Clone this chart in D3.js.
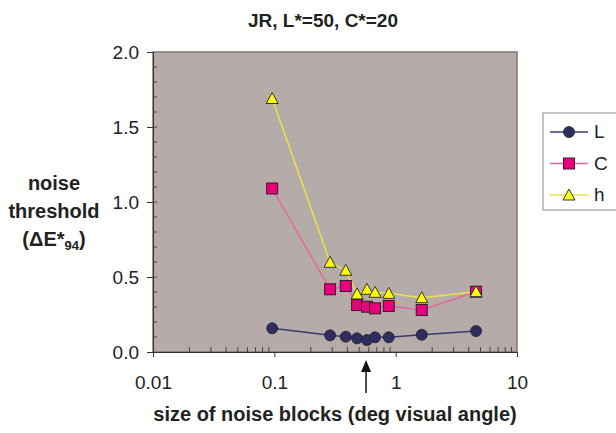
<!DOCTYPE html>
<html>
<head>
<meta charset="utf-8">
<script src="https://cdn.jsdelivr.net/npm/d3@7"></script>
<style>
body { margin: 0; background: #fff; }
text { font-family: "Liberation Sans", Arial, sans-serif; fill: #222; }
</style>
</head>
<body>
<div id="chart"></div>
<script>
// block sizes (deg visual angle)
var sizes = [0.096, 0.288, 0.388, 0.481, 0.58, 0.676, 0.877, 1.64, 4.6];
var valL = [0.158, 0.111, 0.102, 0.091, 0.08, 0.098, 0.098, 0.115, 0.14];
var valC = [1.09, 0.418, 0.44, 0.313, 0.302, 0.291, 0.307, 0.28, 0.402];
var valH = [1.69, 0.598, 0.545, 0.387, 0.418, 0.398, 0.391, 0.362, 0.402];
var xTicks = [0.01, 0.1, 1, 10];
var yTicks = [0.0, 0.5, 1.0, 1.5, 2.0];
var arrowAt = [0.57];

var series = [
    {name: "L", values: valL, line: "#3d3a6b", fill: "#2f2c62", stroke: "#222", shape: "circle"},
    {name: "C", values: valC, line: "#e4659f", fill: "#e8007f", stroke: "#3a1a2a", shape: "square"},
    {name: "h", values: valH, line: "#eee04a", fill: "#ffff00", stroke: "#333", shape: "triangle"}
];

var W = 616, H = 433;
var svg = d3.select("#chart").append("svg").attr("width", W).attr("height", H);

var x = d3.scaleLog().domain([0.01, 10]).range([153, 517]);
var y = d3.scaleLinear().domain([0, 2]).range([352, 52]);

// plot area
svg.append("rect").attr("x", 153).attr("y", 52).attr("width", 364).attr("height", 300)
    .attr("fill", "#b5aca9").attr("stroke", "#7d7776").attr("stroke-width", 1.5);

// title
svg.append("text").attr("x", 323).attr("y", 27).attr("text-anchor", "middle")
    .attr("font-size", 19).attr("font-weight", "bold").text("JR, L*=50, C*=20");

// y axis
var yAxis = d3.axisLeft(y).tickValues(yTicks).tickFormat(d3.format(".1f")).tickSize(6).tickPadding(8);
var gy = svg.append("g").attr("transform", "translate(153,0)").call(yAxis);
gy.select(".domain").attr("stroke", "#333");
gy.selectAll(".tick line").attr("stroke", "#333");
gy.selectAll("text").attr("font-size", 19).attr("fill", "#222");
// minor y ticks inside
var yMinor = d3.range(1, 20).map(function(i){ return i / 10; });
svg.append("g").selectAll("line").data(yMinor).enter().append("line")
    .attr("x1", 153).attr("x2", 157).attr("y1", function(d){ return y(d); }).attr("y2", function(d){ return y(d); })
    .attr("stroke", "#444");

// x axis
var xAxis = d3.axisBottom(x).tickValues(xTicks).tickFormat(function(d){ return String(d); }).tickSize(5).tickPadding(19);
var gx = svg.append("g").attr("transform", "translate(0,352)").call(xAxis);
gx.select(".domain").attr("stroke", "#333");
gx.selectAll(".tick line").attr("stroke", "#333");
gx.selectAll("text").attr("font-size", 19).attr("fill", "#222");
var xMinor = [];
[0.01, 0.1, 1].forEach(function(dec){
    for (var k = 2; k <= 9; k++) xMinor.push(dec * k);
});
svg.append("g").selectAll("line").data(xMinor).enter().append("line")
    .attr("x1", function(d){ return x(d); }).attr("x2", function(d){ return x(d); })
    .attr("y1", 352).attr("y2", 347).attr("stroke", "#444");

// axis titles
svg.append("text").attr("x", 335).attr("y", 421).attr("text-anchor", "middle")
    .attr("font-size", 20).attr("font-weight", "bold").text("size of noise blocks (deg visual angle)");
var yt = svg.append("g").attr("font-weight", "bold");
yt.append("text").attr("x", 54).attr("y", 190).attr("text-anchor", "middle").attr("font-size", 20).text("noise");
yt.append("text").attr("x", 54).attr("y", 218).attr("text-anchor", "middle").attr("font-size", 20).text("threshold");
var t3 = yt.append("text").attr("x", 54).attr("y", 246).attr("text-anchor", "middle").attr("font-size", 20);
t3.append("tspan").text("(ΔE*");
t3.append("tspan").attr("font-size", 13).attr("dy", 4).text("94");
t3.append("tspan").attr("dy", -4).text(")");

// arrow
svg.selectAll(".arrow").data(arrowAt).enter().append("line").attr("class", "arrow")
    .attr("x1", function(d){ return x(d); }).attr("x2", function(d){ return x(d); })
    .attr("y1", 393).attr("y2", 364).attr("stroke", "#111").attr("stroke-width", 1.5);
svg.selectAll(".arrowhead").data(arrowAt).enter().append("path").attr("class", "arrowhead")
    .attr("d", function(d){ var cx = x(d); return "M" + (cx - 5) + ",372 L" + cx + ",360 L" + (cx + 5) + ",372 Z"; })
    .attr("fill", "#111");

function drawMarker(g, s, cx, cy) {
    if (s.shape == "circle") {
        g.append("circle").attr("cx", cx).attr("cy", cy).attr("r", 5.5)
            .attr("fill", s.fill).attr("stroke", s.stroke).attr("stroke-width", 0.8);
    } else if (s.shape == "square") {
        g.append("rect").attr("x", cx - 5.5).attr("y", cy - 5.5).attr("width", 11).attr("height", 11)
            .attr("fill", s.fill).attr("stroke", s.stroke).attr("stroke-width", 1);
    } else {
        g.append("path").attr("d", "M" + cx + "," + (cy - 6) + " L" + (cx + 6) + "," + (cy + 5) + " L" + (cx - 6) + "," + (cy + 5) + " Z")
            .attr("fill", s.fill).attr("stroke", s.stroke).attr("stroke-width", 1);
    }
}

var line = d3.line().x(function(d){ return x(d[0]); }).y(function(d){ return y(d[1]); });
series.forEach(function(s){
    var pts = sizes.map(function(v, i){ return [v, s.values[i]]; });
    svg.append("path").datum(pts).attr("d", line).attr("fill", "none")
        .attr("stroke", s.line).attr("stroke-width", 1.5);
});
series.forEach(function(s){
    var g = svg.append("g");
    sizes.forEach(function(v, i){ drawMarker(g, s, x(v), y(s.values[i])); });
});

// legend
var lg = svg.append("g");
lg.append("rect").attr("x", 543).attr("y", 113).attr("width", 80).attr("height", 97)
    .attr("fill", "#fff").attr("stroke", "#888");
series.forEach(function(s, i){
    var ly = 132 + i * 31.5;
    lg.append("line").attr("x1", 550).attr("x2", 588).attr("y1", ly).attr("y2", ly)
        .attr("stroke", s.line).attr("stroke-width", 1.5);
    drawMarker(lg, s, 569, ly);
    lg.append("text").attr("x", 594).attr("y", ly + 6).attr("font-size", 19).text(s.name);
});
</script>
</body>
</html>
